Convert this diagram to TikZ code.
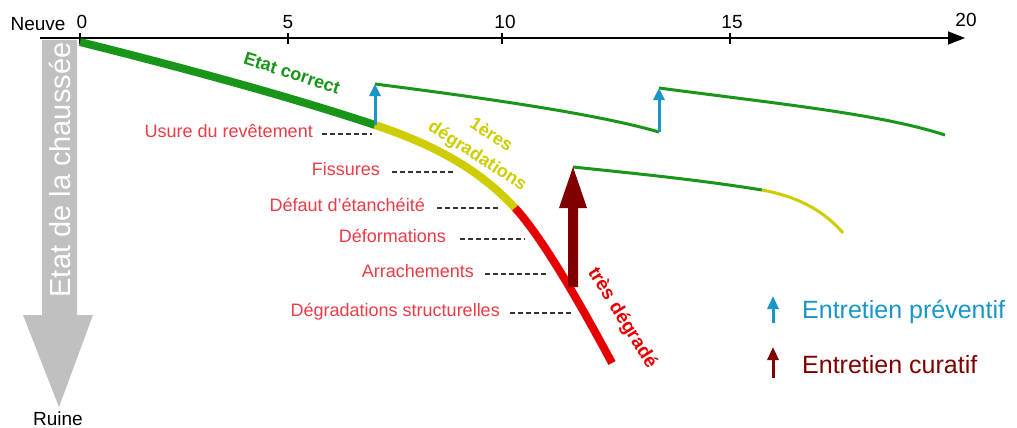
\documentclass[tikz,border=0pt]{standalone}
\usepackage{fontspec}
\setmainfont{Liberation Sans}
\usetikzlibrary{arrows.meta}
\definecolor{cgreen}{RGB}{25,150,25}
\definecolor{cyellow}{RGB}{205,205,0}
\definecolor{cred}{RGB}{230,0,0}
\definecolor{clabel}{RGB}{235,60,70}
\definecolor{cdark}{RGB}{128,0,0}
\definecolor{ccyan}{RGB}{25,150,200}
\definecolor{cgrey}{RGB}{192,192,192}
\begin{document}
\begin{tikzpicture}[x=1pt,y=-1pt,
  axisline/.style={line width=1.5pt,-{Triangle[length=17pt,width=13pt]}},
  tickline/.style={line width=1.2pt},
  ticklab/.style={font=\fontsize{19}{21}\selectfont,inner sep=0pt},
  deglab/.style={font=\fontsize{18}{20}\selectfont,text=clabel,anchor=east,inner sep=0pt,text height=13pt,text depth=4pt},
  dashline/.style={line width=1.1pt,dash pattern=on 4.5pt off 3.5pt,black!80},
  maincurve/.style={line width=8pt},
  thincurve/.style={line width=3pt},
  prevarrow/.style={ccyan,line width=3pt,-{Triangle[length=12pt,width=11pt]}},
  legarrow/.style={line width=3pt,-{Triangle[length=13pt,width=11pt]}},
  phase/.style={font=\bfseries\fontsize{18}{25}\selectfont,inner sep=0pt,align=center},
  legtext/.style={font=\fontsize{25}{27}\selectfont,anchor=west,inner sep=0pt}
]
\useasboundingbox[fill=white] (0,0) rectangle (1017,428);

% grey state arrow
\fill[cgrey] (42,40) -- (77,40) -- (77,315) -- (93,315) -- (59,407) -- (23,315) -- (42,315) -- cycle;
\node[rotate=90,text=white,font=\fontsize{29}{31}\selectfont,inner sep=0pt] (etat) at (60,170) {Etat de la chaussée};
\node[font=\fontsize{19}{21}\selectfont,inner sep=0pt] (ruine) at (58,419) {Ruine};
\node[font=\fontsize{19}{21}\selectfont,inner sep=0pt] (neuve) at (38,24) {Neuve};

% time axis
\coordinate (axs) at (40,38);
\coordinate (axe) at (965,38);
\draw[axisline] (axs) -- (axe);
\foreach \x in {80,288,502,730}{
  \draw[tickline] (\x,33) -- (\x,44);
}
\node[ticklab] (l0) at (82,22) {0};
\node[ticklab] (l5) at (288,22) {5};
\node[ticklab] (l10) at (505,22) {10};
\node[ticklab] (l15) at (732,22) {15};
\node[ticklab] (l20) at (966,20) {20};

% main deterioration curve
\coordinate (p0) at (80,42);
\coordinate (p1) at (375,125);
\coordinate (p2) at (515,208);
\coordinate (p3) at (612,363);
\draw[maincurve,cgreen] (p0) .. controls (200,72) and (300,100) .. (p1);
\draw[maincurve,cyellow] (p1) .. controls (435,145) and (480,170) .. (p2);
\draw[maincurve,cred] (p2) .. controls (545,240) and (590,322) .. (p3);

% preventive maintenance
\coordinate (a1) at (375,84);
\coordinate (b1) at (659,132);
\coordinate (a2) at (659,88);
\coordinate (b2) at (945,135);
\draw[thincurve,cgreen] (a1) .. controls (500,100) and (600,115) .. (b1);
\draw[thincurve,cgreen] (a2) .. controls (780,104) and (880,114) .. (b2);
\draw[prevarrow] (p1) -- (a1);
\draw[prevarrow] (b1) -- (a2);

% curative maintenance
\coordinate (c1) at (573,167);
\coordinate (c2) at (762,190);
\coordinate (c3) at (843,233);
\draw[thincurve,cgreen] (c1) .. controls (640,174) and (700,180) .. (c2);
\draw[thincurve,cyellow] (c2) .. controls (800,197) and (825,212) .. (c3);
\fill[cdark] (568,287) -- (578,287) -- (578,208) -- (587,208) -- (c1) -- (559,208) -- (568,208) -- cycle;

% phase labels
\node[phase,text=cgreen,rotate=-18] (correct) at (292,73) {Etat correct};
\node[phase,text=cyellow,rotate=-33] (prem) at (484,146) {1ères\\dégradations};
\node[phase,text=cred,rotate=-58,font=\bfseries\fontsize{19}{21}\selectfont] (tres) at (622,318) {très dégradé};

% degradation labels
\node[deglab] (usure) at (313,133) {Usure du revêtement};
\node[deglab] (fiss) at (380,171) {Fissures};
\node[deglab] (defaut) at (425,207) {Défaut d'étanchéité};
\node[deglab] (deform) at (446,238) {Déformations};
\node[deglab] (arrach) at (474,273) {Arrachements};
\node[deglab] (struct) at (500,312) {Dégradations structurelles};
\coordinate (du) at (372,134);
\coordinate (df) at (455,172);
\coordinate (dd) at (500,208);
\coordinate (dm) at (525,239);
\coordinate (da) at (548,274);
\coordinate (ds) at (573,313);
\draw[dashline] ([xshift=9pt,yshift=-1pt]usure.east) -- (du);
\draw[dashline] ([xshift=12pt,yshift=-1pt]fiss.east) -- (df);
\draw[dashline] ([xshift=12pt,yshift=-1pt]defaut.east) -- (dd);
\draw[dashline] ([xshift=14pt,yshift=-1pt]deform.east) -- (dm);
\draw[dashline] ([xshift=11pt,yshift=-1pt]arrach.east) -- (da);
\draw[dashline] ([xshift=10pt,yshift=-1pt]struct.east) -- (ds);

% legend
\coordinate (lp0) at (773,323);
\coordinate (lp1) at (773,296);
\coordinate (lc0) at (773,378);
\coordinate (lc1) at (773,347);
\draw[legarrow,ccyan] (lp0) -- (lp1);
\draw[legarrow,cdark] (lc0) -- (lc1);
\node[legtext,text=ccyan] (legp) at (802,312) {Entretien préventif};
\node[legtext,text=cdark] (legc) at (802,365) {Entretien curatif};
\end{tikzpicture}
\end{document}
